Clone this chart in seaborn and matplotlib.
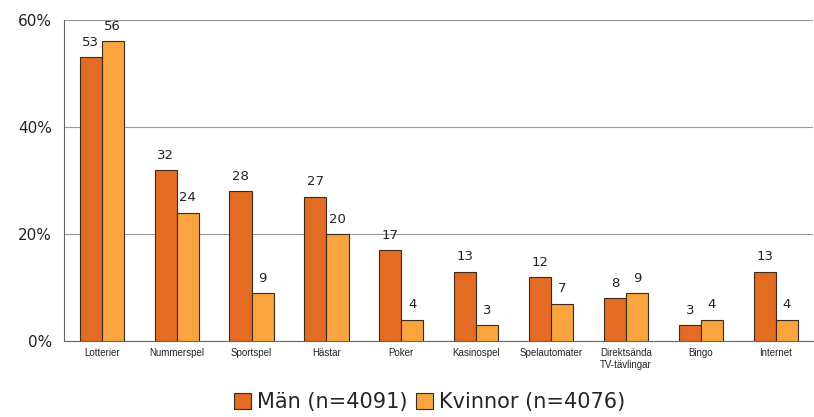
import seaborn as sns
import matplotlib.pyplot as plt
import pandas as pd
import numpy as np

categories = ['Lotterier', 'Nummerspel', 'Sportspel', 'Hästar', 'Poker', 'Kasinospel',
              'Spelautomater', 'Direktsända\nTV-tävlingar', 'Bingo', 'Internet']
man = [53, 32, 28, 27, 17, 13, 12, 8, 3, 13]
kvinnor = [56, 24, 9, 20, 4, 3, 7, 9, 4, 4]
series = ['Män (n=4091)', 'Kvinnor (n=4076)']
colors = ['#E36B23', '#F9A43F']

df = pd.DataFrame({
    'kategori': categories * 2,
    'andel': man + kvinnor,
    'grupp': [series[0]] * len(categories) + [series[1]] * len(categories),
})

sns.set_style('white')
fig = plt.figure(figsize=(8.14, 4.17), dpi=100)
ax = fig.add_axes([0.079, 0.182, 0.92, 0.77])

sns.barplot(data=df, x='kategori', y='andel', hue='grupp', palette=colors,
            saturation=1, width=0.59, edgecolor='#3a2a1a', linewidth=0.8,
            ax=ax, zorder=3)

for cont in ax.containers:
    ax.bar_label(cont, fmt='%d', padding=6, fontsize=9.5, color='#222222',
                 family='DejaVu Sans')

ax.set_ylim(0, 60)
ax.set_xlim(-0.5, len(categories) - 0.5)
ax.set_yticks([0, 20, 40, 60])
ax.set_yticklabels([f'{v}%' for v in [0, 20, 40, 60]], fontsize=11, color='#222222')
ax.yaxis.grid(True, color='#999999', linewidth=0.8, zorder=0)
ax.set_axisbelow(True)

ax.set_xticks(range(len(categories)))
ax.set_xticklabels(categories, fontsize=7, family='Liberation Sans', color='#222222')
ax.set_xticks(np.arange(-0.5, len(categories), 1), minor=True)
ax.tick_params(axis='x', which='major', length=0, pad=5)
ax.tick_params(axis='x', which='minor', length=4, color='#555555', direction='out')
ax.tick_params(axis='y', length=5, color='#555555', direction='out', pad=4)

ax.set_xlabel('')
ax.set_ylabel('')
for s in ['top', 'right']:
    ax.spines[s].set_visible(False)
ax.spines['left'].set_color('#666666')
ax.spines['bottom'].set_color('#666666')

ax.legend(loc='center', bbox_to_anchor=(0.488, -0.19), ncol=2, frameon=False,
          fontsize=15, handlelength=0.8, handleheight=0.8, handletextpad=0.3,
          columnspacing=0.4, borderaxespad=0, borderpad=0)

fig.savefig('out.png', dpi=100)
